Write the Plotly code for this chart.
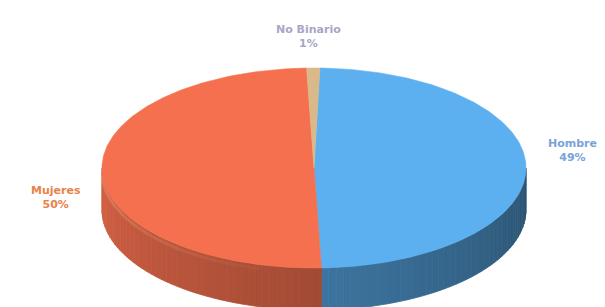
import numpy as np
import plotly.graph_objects as go

# ---- data ----
categories = ["Hombre", "Mujeres", "No Binario"]
values = [49, 50, 1]
pct_labels = ["49%", "50%", "1%"]
slice_colors = ["#5cb0f0", "#f4704f", "#d9b98a"]
label_colors = ["#7aa3d8", "#e8834a", "#aaa6c6"]

# ---- layout / geometry (not data) ----
W, H = 605, 307
CX, CY, RX, RY, DEPTH = 306, 160, 212, 100, 42
START_DEG = 1.6  # clockwise from 12 o'clock
label_pos = {"Hombre": (564, 142), "Mujeres": (48, 189), "No Binario": (300, 28)}


def pt(a_deg, dy=0.0):
    a = np.radians(a_deg)
    return CX + RX * np.sin(a), CY - RY * np.cos(a) + dy


def hex_to_rgb(h):
    h = h.lstrip("#")
    return tuple(int(h[i:i + 2], 16) for i in (0, 2, 4))


def shade(hexc, f):
    r, g, b = hex_to_rgb(hexc)
    return "rgb(%d,%d,%d)" % (min(255, r * f), min(255, g * f), min(255, b * f))


total = float(sum(values))
bounds = []
acc = START_DEG
for v in values:
    span = v / total * 360.0
    bounds.append((acc, acc + span))
    acc += span

fig = go.Figure()

# side walls (front half: angles 90..270)
for (a0, a1), col in zip(bounds, slice_colors):
    for shift in (-360, 0, 360):
        lo = max(a0 + shift, 90)
        hi = min(a1 + shift, 270)
        if hi <= lo:
            continue
        edges = np.arange(lo, hi, 2.0)
        edges = np.append(edges, hi)
        for s0, s1 in zip(edges[:-1], edges[1:]):
            mid = 0.5 * (s0 + s1)
            f = 0.47 + (mid - 90) / 180.0 * 0.40
            c = shade(col, f)
            arc = np.linspace(s0, s1, 4)
            xs_t, ys_t = pt(arc)
            xs_b, ys_b = pt(arc[::-1], DEPTH)
            xs = np.concatenate([xs_t, xs_b, xs_t[:1]])
            ys = np.concatenate([ys_t, ys_b, ys_t[:1]])
            fig.add_trace(go.Scatter(x=xs, y=ys, mode="lines", fill="toself",
                                     fillcolor=c, line=dict(color=c, width=0.8),
                                     hoverinfo="skip", showlegend=False))

# subtle, fading highlight along the left-front rim of the side
hl_edges = np.linspace(195, 268, 13)
for s0, s1 in zip(hl_edges[:-1], hl_edges[1:]):
    op = 0.05 + 0.25 * (s0 - 195) / 73.0
    arc = np.linspace(s0, s1, 6)
    xr, yr = pt(arc, 4)
    fig.add_trace(go.Scatter(x=xr, y=yr, mode="lines",
                             line=dict(color="rgba(255,190,150,%.2f)" % op, width=3),
                             hoverinfo="skip", showlegend=False))

# top faces
for (a0, a1), col, name in zip(bounds, slice_colors, categories):
    n = max(3, int((a1 - a0) / 1.0) + 2)
    arc = np.linspace(a0, a1, n)
    xs, ys = pt(arc)
    xs = np.concatenate([[CX], xs, [CX]])
    ys = np.concatenate([[CY], ys, [CY]])
    fig.add_trace(go.Scatter(x=xs, y=ys, mode="lines", fill="toself",
                             fillcolor=col, line=dict(color=col, width=0.6),
                             name=name, hoverinfo="name", showlegend=False))

# labels
for name, pct, lc in zip(categories, pct_labels, label_colors):
    x, y = label_pos[name]
    fig.add_annotation(x=x, y=y, xref="x", yref="y",
                       text="<b>" + name + "</b><br><b>" + pct + "</b>",
                       showarrow=False,
                       font=dict(family="DejaVu Sans", size=11, color=lc),
                       align="center")

fig.update_layout(
    width=W, height=H,
    margin=dict(l=0, r=0, t=0, b=0),
    paper_bgcolor="white", plot_bgcolor="white",
    xaxis=dict(range=[0, W], visible=False, fixedrange=True),
    yaxis=dict(range=[H, 0], visible=False, fixedrange=True),
    showlegend=False,
)

fig.write_html("out.html")
